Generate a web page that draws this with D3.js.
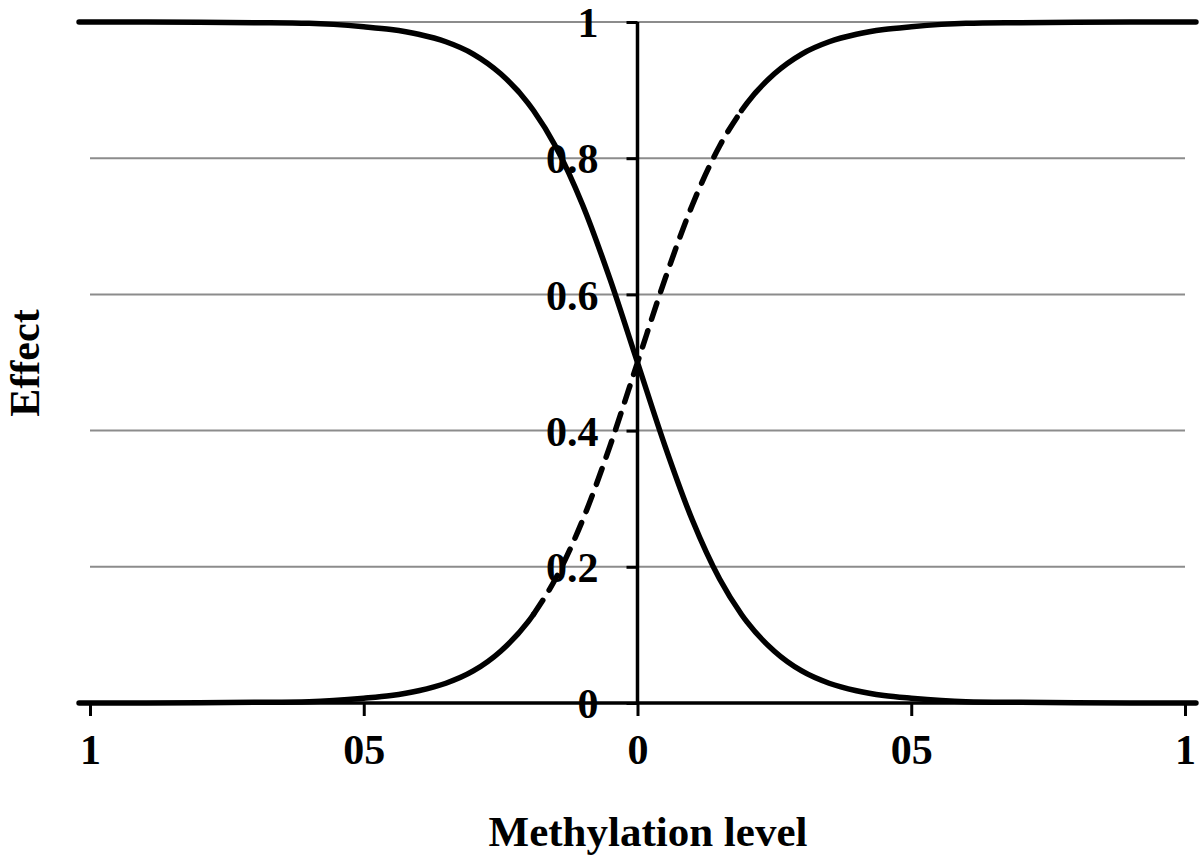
<!DOCTYPE html>
<html>
<head>
<meta charset="utf-8">
<script src="https://cdn.jsdelivr.net/npm/d3@7"></script>
<style>
  body { margin: 0; background: #fff; }
  text { font-family: "Liberation Serif", "Times New Roman", serif; font-weight: bold; fill: #000; }
</style>
</head>
<body>
<div id="chart"></div>
<script>
// methylation level (x) sampled along the curves
const xs = [-1.02, -0.9, -0.8, -0.7, -0.6, -0.5, -0.45, -0.4, -0.35, -0.3, -0.25, -0.2, -0.19, -0.15, -0.1, -0.05,
  0, 0.05, 0.1, 0.15, 0.19, 0.2, 0.25, 0.3, 0.35, 0.4, 0.45, 0.5, 0.6, 0.7, 0.8, 0.9, 1.02];

// effect
const falling = [1.0, 1.0, 0.9997, 0.999, 0.998, 0.993, 0.989, 0.982, 0.971, 0.953, 0.924, 0.881, 0.870, 0.818, 0.731, 0.622,
  0.5, 0.378, 0.269, 0.182, 0.130, 0.119, 0.076, 0.047, 0.029, 0.018, 0.011, 0.007, 0.002, 0.001, 0.0003, 0.0, 0.0];

// effect (dashed in the middle)
const rising = [0.0, 0.0, 0.0003, 0.001, 0.002, 0.007, 0.011, 0.018, 0.029, 0.047, 0.076, 0.119, 0.130, 0.182, 0.269, 0.378,
  0.5, 0.622, 0.731, 0.818, 0.870, 0.881, 0.924, 0.953, 0.971, 0.982, 0.989, 0.993, 0.998, 0.999, 0.9997, 1.0, 1.0];
const dashedRange = [-0.19, 0.19];

const xTicks = [-1, -0.5, 0, 0.5, 1];
const xTickLabels = ['1', '05', '0', '05', '1'];
const yTicks = [0, 0.2, 0.4, 0.6, 0.8, 1];
const yTickLabels = ['0', '0.2', '0.4', '0.6', '0.8', '1'];

const width = 1200, height = 856;
const plotLeft = 90, plotRight = 1185, plotTop = 22, plotBottom = 703;

const svg = d3.select('#chart').append('svg')
  .attr('width', width)
  .attr('height', height);

const x = d3.scaleLinear().domain([-1, 1]).range([plotLeft, plotRight]);
const y = d3.scaleLinear().domain([0, 1]).range([plotBottom, plotTop]);

// gridlines
svg.append('g')
  .selectAll('line')
  .data(yTicks.filter(d => d > 0))
  .join('line')
  .attr('x1', plotLeft).attr('x2', plotRight)
  .attr('y1', d => y(d)).attr('y2', d => y(d))
  .attr('stroke', '#8c8c8c')
  .attr('stroke-width', 2);

// x axis at y = 0
const xAxis = svg.append('g')
  .attr('transform', `translate(0,${y(0)})`)
  .call(d3.axisBottom(x).tickValues(xTicks).tickSize(13).tickFormat((d, i) => xTickLabels[i]));
xAxis.select('.domain').attr('stroke', '#000').attr('stroke-width', 3.5).attr('d', `M${plotLeft},0H${plotRight}`);
xAxis.selectAll('.tick line').attr('stroke', '#000').attr('stroke-width', 3);
xAxis.selectAll('.tick text').attr('font-size', 42).attr('font-family', null).attr('y', 61).attr('dy', 0);

// y axis at x = 0
const yAxis = svg.append('g')
  .attr('transform', `translate(${x(0)},0)`)
  .call(d3.axisLeft(y).tickValues(yTicks).tickSize(11).tickFormat((d, i) => yTickLabels[i]));
yAxis.select('.domain').attr('stroke', '#000').attr('stroke-width', 3.5).attr('d', `M0,${plotTop}V${plotBottom}`);
yAxis.selectAll('.tick line').attr('stroke', '#000').attr('stroke-width', 3);
yAxis.selectAll('.tick text').attr('font-size', 42).attr('font-family', null).attr('x', -39).attr('dy', '0.35em');

// curves
const line = d3.line()
  .x(d => x(d.x))
  .y(d => y(d.y))
  .curve(d3.curveMonotoneX);

const fallingPts = xs.map((v, i) => ({x: v, y: falling[i]}));
const risingPts = xs.map((v, i) => ({x: v, y: rising[i]}));

const segments = [
  {pts: fallingPts, dashed: false},
  {pts: risingPts.filter(d => d.x <= dashedRange[0]), dashed: false},
  {pts: risingPts.filter(d => d.x >= dashedRange[0] && d.x <= dashedRange[1]), dashed: true},
  {pts: risingPts.filter(d => d.x >= dashedRange[1]), dashed: false}
];

svg.append('g')
  .selectAll('path')
  .data(segments)
  .join('path')
  .attr('d', d => line(d.pts))
  .attr('fill', 'none')
  .attr('stroke', '#000')
  .attr('stroke-width', 5.5)
  .attr('stroke-linecap', 'round')
  .attr('stroke-dasharray', d => d.dashed ? '17,12' : null);

// axis titles
svg.append('text')
  .attr('x', 648).attr('y', 846)
  .attr('text-anchor', 'middle')
  .attr('font-size', 43)
  .text('Methylation level');

svg.append('text')
  .attr('transform', 'translate(39,363) rotate(-90)')
  .attr('text-anchor', 'middle')
  .attr('font-size', 42)
  .text('Effect');
</script>
</body>
</html>
